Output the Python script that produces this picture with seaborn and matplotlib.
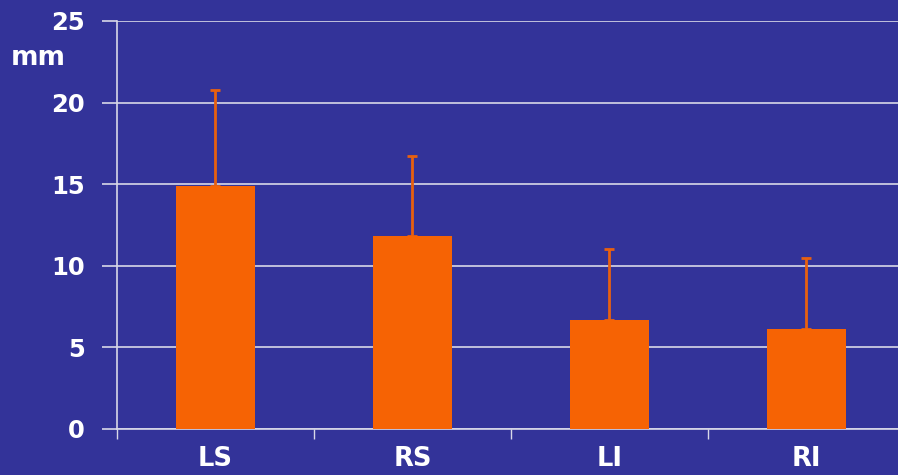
import numpy as np
import pandas as pd
import matplotlib.pyplot as plt
import seaborn as sns

# Chart data
categories = ['LS', 'RS', 'LI', 'RI']
means = [14.9, 11.8, 6.7, 6.1]
sds = [5.9, 4.9, 4.3, 4.4]
y_ticks = [0, 5, 10, 15, 20, 25]

BG = '#333399'
ORANGE = '#F66304'
GRID = '#D8D8E8'

sns.set_theme(style='white')
plt.rcParams['font.family'] = ['DejaVu Sans']

df = pd.DataFrame({'site': categories, 'mm': means})

fig = plt.figure(figsize=(8.98, 4.75), dpi=100)
fig.patch.set_facecolor(BG)
# axes spans past the right edge, like the original
ax = fig.add_axes([117 / 898, 46 / 475, (905 - 117) / 898, (429 - 21) / 475])
ax.set_facecolor(BG)

sns.barplot(data=df, x='site', y='mm', color=ORANGE, saturation=1,
            width=0.4, errorbar=None, linewidth=0, ax=ax, zorder=3)
ax.errorbar(np.arange(len(categories)), means, yerr=[np.zeros(len(sds)), sds],
            fmt='none', ecolor='#E8600F', elinewidth=2, capsize=3.5, capthick=2,
            zorder=2)

ax.set_xlim(-0.5, 3.5)
ax.set_ylim(0, 25)
ax.set_yticks(y_ticks)
ax.yaxis.grid(True, color=GRID, linewidth=1.2, zorder=0)
ax.set_axisbelow(True)

# category boundaries as tick marks
ax.set_xticks(np.arange(-0.5, 4.0, 1.0), minor=True)
ax.tick_params(axis='x', which='minor', length=7, width=1, color=GRID,
               direction='out', bottom=True)
ax.tick_params(axis='x', which='major', length=0, pad=12,
               labelsize=18.5, labelcolor='white')
ax.tick_params(axis='y', length=11, width=1.2, color=GRID, direction='out',
               pad=12, labelsize=17.5, labelcolor='white', left=True)
for lab in ax.get_xticklabels() + ax.get_yticklabels():
    lab.set_fontweight('bold')

for side in ['top', 'right']:
    ax.spines[side].set_visible(False)
for side in ['left', 'bottom']:
    ax.spines[side].set_color(GRID)
    ax.spines[side].set_linewidth(1.2)

ax.set_xlabel('')
ax.set_ylabel('')
fig.text(11 / 898, 1 - 58 / 475, 'mm', color='white', fontsize=19,
         fontweight='bold', va='center', ha='left')

fig.savefig('out.png', dpi=100, facecolor=BG)
